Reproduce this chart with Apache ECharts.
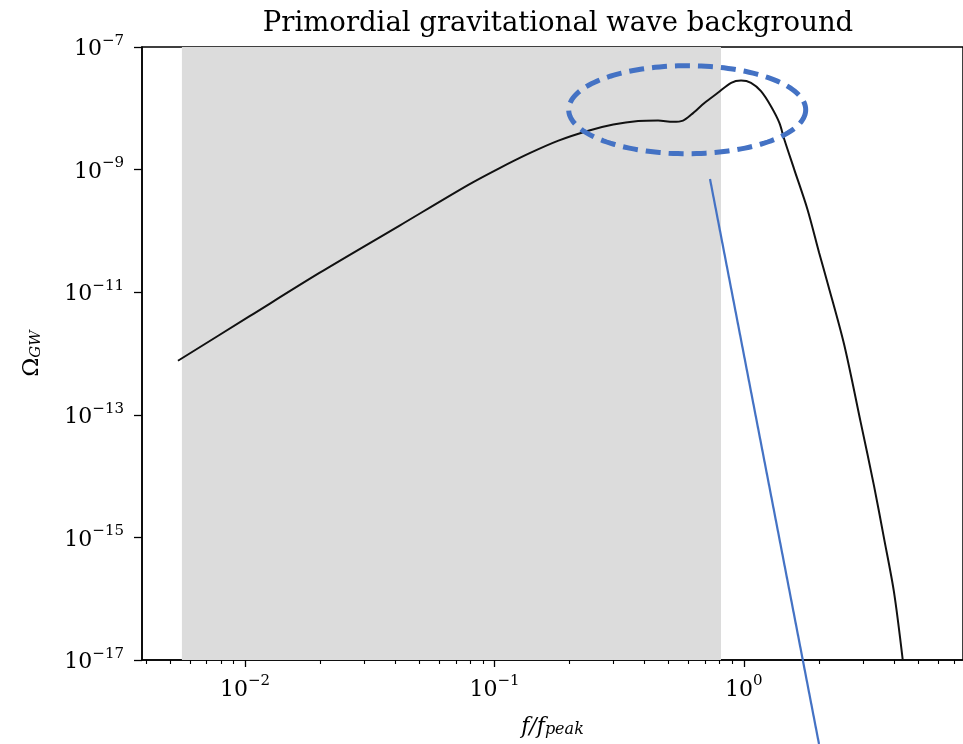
<!DOCTYPE html>
<html>
<head>
<meta charset="utf-8">
<script src="https://cdn.jsdelivr.net/npm/echarts@6/dist/echarts.min.js"></script>
<style>
html,body{margin:0;padding:0;background:#fff;}
#chart{width:963px;height:744px;}
</style>
</head>
<body>
<div id="chart"></div>
<script>
// ---- data ----
const freq = [0.00538, 0.01043, 0.01986, 0.0415, 0.0789, 0.104, 0.1371, 0.1806, 0.238, 0.2997, 0.377, 0.453, 0.520, 0.5706, 0.616, 0.697, 0.787, 0.890, 0.975, 1.069, 1.172, 1.285, 1.389, 1.454, 1.594, 1.802, 2.006, 2.166, 2.526, 2.942, 3.327, 3.648, 4.0, 4.34];
const omega = [7.62e-13, 4.06e-12, 2.06e-11, 1.21e-10, 5.69e-10, 1.04e-9, 1.82e-9, 2.97e-9, 4.31e-9, 5.43e-9, 6.19e-9, 6.31e-9, 6.01e-9, 6.31e-9, 7.91e-9, 1.23e-8, 1.79e-8, 2.61e-8, 2.84e-8, 2.61e-8, 1.9e-8, 1.08e-8, 5.78e-9, 3.09e-9, 1.0e-9, 2.22e-10, 4.37e-11, 1.43e-11, 1.40e-12, 7.6e-14, 7.0e-15, 9.8e-16, 1.3e-16, 1.0e-17];
const shadedBand = [0.00558, 0.81];
const xMajorTicks = [0.01, 0.1, 1];
const xMinorTicks = [0.004, 0.005, 0.006, 0.007, 0.008, 0.009, 0.02, 0.03, 0.04, 0.05, 0.06, 0.07, 0.08, 0.09, 0.2, 0.3, 0.4, 0.5, 0.6, 0.7, 0.8, 0.9, 2, 3, 4, 5, 6, 7];
const yMajorTicks = [1e-17, 1e-15, 1e-13, 1e-11, 1e-9, 1e-7];
const xRange = [0.00386, 7.57];
const yRange = [1e-17, 1e-7];
const titleText = 'Primordial gravitational wave background';

const SERIF = "'DejaVu Serif', serif";
function fmtPow(v) {
  const e = Math.round(Math.log10(v));
  return '{a|10}{b|' + (e < 0 ? '\u2212' + (-e) : String(e)) + '}';
}
const powRich = {
  a: {fontFamily: SERIF, fontSize: 22, color: '#000', lineHeight: 27, verticalAlign: 'bottom'},
  b: {fontFamily: SERIF, fontSize: 15, color: '#000', lineHeight: 15, padding: [0, 0, 12, 0], verticalAlign: 'bottom'}
};

const chart = echarts.init(document.getElementById('chart'), null, {renderer: 'canvas'});

const lineData = freq.map((f, i) => [f, omega[i]]);

// ellipse annotation (pixel overlay)
const ell = [];
const cx = 687.2, cy = 109.7, rx = 118.5, ry = 44;
for (let i = 0; i < 160; i++) {
  const t = i / 160 * Math.PI * 2;
  ell.push([cx + rx * Math.cos(t), cy + ry * Math.sin(t)]);
}

const option = {
  animation: false,
  backgroundColor: '#fff',
  title: {
    text: titleText,
    left: 553, textAlign: 'center', top: 5,
    textStyle: {fontFamily: SERIF, fontSize: 27.5, fontWeight: 'normal', color: '#000'}
  },
  grid: {left: 142, top: 47, right: -3, bottom: 84, show: true, borderColor: '#000', borderWidth: 1.5, containLabel: false},
  xAxis: [{
    type: 'log', logBase: 10, min: xRange[0], max: xRange[1],
    position: 'bottom',
    axisLine: {show: true, lineStyle: {color: '#000', width: 1.5}},
    axisTick: {show: true, inside: false, length: 7, lineStyle: {color: '#000', width: 1.3}, customValues: xMajorTicks},
    axisLabel: {show: true, margin: 14, customValues: xMajorTicks, formatter: fmtPow, rich: powRich},
    splitLine: {show: false},
    name: '{f|f/f}{s|peak}', nameLocation: 'middle', nameGap: 51,
    nameTextStyle: {rich: {
      f: {fontFamily: SERIF, fontStyle: 'italic', fontSize: 22, color: '#000', lineHeight: 27, verticalAlign: 'bottom'},
      s: {fontFamily: SERIF, fontStyle: 'italic', fontSize: 16, color: '#000', lineHeight: 16, padding: [10, 0, 0, 0], verticalAlign: 'bottom'}
    }}
  }, {
    type: 'log', logBase: 10, min: xRange[0], max: xRange[1],
    position: 'bottom', offset: 0,
    axisLine: {show: false},
    axisTick: {show: true, inside: false, length: 4, lineStyle: {color: '#000', width: 1.1}, customValues: xMinorTicks},
    axisLabel: {show: false},
    splitLine: {show: false}
  }],
  yAxis: {
    type: 'log', logBase: 10, min: yRange[0], max: yRange[1],
    axisLine: {show: true, lineStyle: {color: '#000', width: 1.5}},
    axisTick: {show: true, inside: false, length: 8, lineStyle: {color: '#000', width: 1.3}, customValues: yMajorTicks},
    axisLabel: {show: true, margin: 18, customValues: yMajorTicks, formatter: fmtPow, rich: powRich},
    splitLine: {show: false},
    name: '{o|\u03A9}{s|GW}', nameLocation: 'middle', nameRotate: 90, nameGap: 98,
    nameTextStyle: {rich: {
      o: {fontFamily: SERIF, fontSize: 23, color: '#000', lineHeight: 26, verticalAlign: 'bottom'},
      s: {fontFamily: SERIF, fontStyle: 'italic', fontSize: 15, color: '#000', lineHeight: 15, padding: [11, 0, 0, 0], verticalAlign: 'bottom'}
    }}
  },
  series: [{
    type: 'line', xAxisIndex: 0, yAxisIndex: 0, data: [], z: 1,
    markArea: {silent: true, itemStyle: {color: '#dcdcdc', opacity: 1},
      data: [[{xAxis: shadedBand[0]}, {xAxis: shadedBand[1]}]]}
  }, {
    type: 'line', xAxisIndex: 0, yAxisIndex: 0, data: lineData, z: 3,
    showSymbol: false, smooth: 0.3,
    lineStyle: {color: '#111', width: 2}
  }],
  graphic: [{
    type: 'polygon', z: 100,
    shape: {points: ell},
    style: {fill: null, stroke: '#4472C4', lineWidth: 5, lineDash: [15, 8]}
  }, {
    type: 'line', z: 100,
    shape: {x1: 710, y1: 179, x2: 819, y2: 744},
    style: {stroke: '#4472C4', lineWidth: 2.2}
  }]
};
chart.setOption(option);
</script>
</body>
</html>
